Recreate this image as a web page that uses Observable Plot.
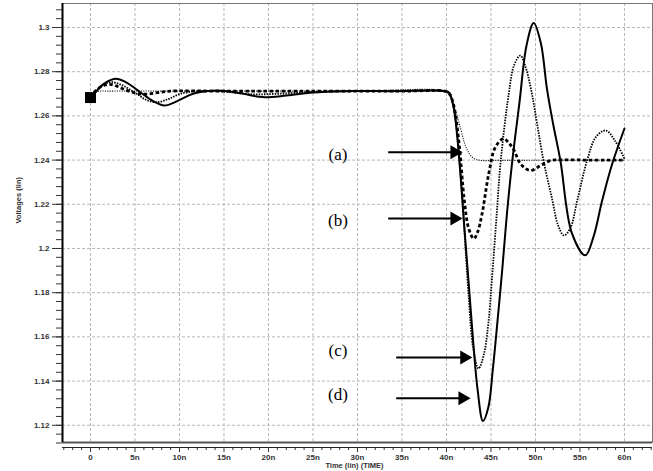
<!DOCTYPE html>
<html><head><meta charset="utf-8">
<script src="https://cdn.jsdelivr.net/npm/d3@7"></script>
<script src="https://cdn.jsdelivr.net/npm/@observablehq/plot@0.6"></script>
<style>html,body{margin:0;padding:0;background:#fff;}</style>
</head><body><div id="chart"></div>
<script>
// Axis ticks
const xMajor = [0, 5, 10, 15, 20, 25, 30, 35, 40, 45, 50, 55, 60];
const xTickLabels = ["0", "5n", "10n", "15n", "20n", "25n", "30n", "35n", "40n", "45n", "50n", "55n", "60n"];
const yMajor = [1.12, 1.14, 1.16, 1.18, 1.2, 1.22, 1.24, 1.26, 1.28, 1.3];
const yTickLabels = ["1.12", "1.14", "1.16", "1.18", "1.2", "1.22", "1.24", "1.26", "1.28", "1.3"];
const xMinor = d3.range(-3, 64, 1);
const yMinor = d3.range(278, 328).map(i => +(i * 0.004).toFixed(3));
const xDomain = [-3.146, 63.15];
const yDomain = [1.10995, 1.31086];

// Series (a): thin dotted
const tA = [0, 0.75, 2, 10, 20, 30, 39.9, 40.3, 41.0, 41.6, 42.0, 42.4, 42.9, 43.6, 46, 50, 55, 60];
const vA = [1.2683, 1.2710, 1.2712, 1.2712, 1.2712, 1.2712, 1.2712, 1.2695, 1.2625, 1.254, 1.248, 1.244, 1.2413, 1.2400, 1.2399, 1.2399, 1.2399, 1.2399];
// Series (b): thick dashed
const tB = [0, 0.6, 1.5, 2.4, 3.5, 4.7, 6, 7.5, 9, 15, 25, 35, 39.8, 40.3, 40.8, 41.4, 42.0, 42.5, 43.07, 43.5, 44.0, 44.75, 45.5, 46.4, 47.0, 47.6, 48.3, 49.4, 50.6, 51.7, 53, 56, 60];
const vB = [1.2683, 1.2715, 1.2738, 1.2742, 1.2725, 1.2707, 1.2698, 1.2705, 1.2712, 1.2712, 1.2712, 1.2712, 1.2712, 1.2702, 1.265, 1.248, 1.222, 1.209, 1.2044, 1.2075, 1.2157, 1.2338, 1.2459, 1.2497, 1.2478, 1.2444, 1.2384, 1.2353, 1.2376, 1.2398, 1.2401, 1.2400, 1.2400];
// Series (c): dotted
const tC = [0, 0.5, 1.3, 2.25, 3.5, 5, 6.3, 7.5, 8.8, 10.1, 12, 15, 18, 21, 25, 30, 35, 39.8, 40.3, 40.8, 41.2, 41.6, 42.0, 42.5, 43.0, 43.6, 44.2, 44.7, 45.1, 45.6, 46.1, 47.0, 47.6, 48.3, 48.9, 49.6, 50.2, 50.9, 51.9, 52.5, 53.2, 53.9, 54.7, 55.8, 56.8, 57.9, 58.9, 60.0];
const vC = [1.2683, 1.2705, 1.2738, 1.2753, 1.274, 1.2705, 1.2672, 1.2662, 1.2677, 1.27, 1.2712, 1.271, 1.2698, 1.27, 1.2708, 1.2712, 1.2712, 1.2712, 1.27, 1.264, 1.252, 1.233, 1.209, 1.178, 1.155, 1.1457, 1.152, 1.166, 1.1856, 1.213, 1.2398, 1.27, 1.283, 1.2873, 1.282, 1.27, 1.256, 1.2398, 1.2218, 1.211, 1.2059, 1.209, 1.2218, 1.2398, 1.2505, 1.2534, 1.249, 1.2406];
// Series (d): solid
const tD = [0, 0.5, 1.5, 2.8, 4, 5.6, 7, 8.3, 9.8, 11.6, 14.3, 16.9, 19.3, 22, 25, 28, 34, 39.8, 40.3, 40.8, 41.2, 41.6, 42.0, 42.5, 43.0, 43.5, 44.1, 44.7, 45.2, 45.8, 46.3, 46.8, 47.4, 48.2, 49.0, 49.8, 50.6, 51.3, 52.0, 52.8, 54.1, 55.6, 56.5, 57.5, 58.6, 60];
const vD = [1.2683, 1.2705, 1.2745, 1.2768, 1.2752, 1.2707, 1.2668, 1.2647, 1.2668, 1.2701, 1.2715, 1.2702, 1.2685, 1.2692, 1.2706, 1.2712, 1.2712, 1.2712, 1.2705, 1.264, 1.251, 1.232, 1.21, 1.184, 1.158, 1.136, 1.1219, 1.128, 1.145, 1.17, 1.192, 1.216, 1.2398, 1.266, 1.292, 1.302, 1.293, 1.272, 1.256, 1.2398, 1.2068, 1.1969, 1.205, 1.2218, 1.238, 1.2543];

// Annotations
const labelNames = ["(a)", "(b)", "(c)", "(d)"];
const labelT = [27.8, 27.8, 27.8, 27.8];
const labelV = [1.2426, 1.2127, 1.1536, 1.134];
const arrowT1 = [33.9, 33.9, 34.8, 34.8];
const arrowT2 = [41.8, 41.8, 42.9, 42.7];
const arrowV = [1.2435, 1.2136, 1.1507, 1.1322];
const startT = [0];
const startV = [1.2683];

const mk = (t, v) => t.map((d, i) => ({t: d, v: v[i]}));
const A = mk(tA, vA), B = mk(tB, vB), C = mk(tC, vC), D = mk(tD, vD);
const labels = labelNames.map((s, i) => ({s, t: labelT[i], v: labelV[i]}));
const arrows = arrowV.map((v, i) => ({t1: arrowT1[i], t2: arrowT2[i], v}));

const gridStyle = {stroke: "#b8b8b8", strokeOpacity: 1, strokeDasharray: "3,2", strokeWidth: 1};

const chart = Plot.plot({
  width: 653, height: 471,
  marginLeft: 62, marginRight: 1, marginTop: 3, marginBottom: 24,
  x: {domain: xDomain},
  y: {domain: yDomain},
  style: {fontFamily: "Liberation Sans", fontSize: "8px", fontWeight: "bold", color: "#333", background: "#fff"},
  marks: [
    Plot.ruleX(xMajor, {...gridStyle, insetBottom: 5}),
    Plot.ruleY(yMajor, gridStyle),
    Plot.line(A, {x: "t", y: "v", stroke: "#222", strokeWidth: 1.1, strokeDasharray: "1.2,1.2", strokeLinecap: "butt", curve: "catmull-rom"}),
    Plot.line(C, {x: "t", y: "v", stroke: "#000", strokeWidth: 1.8, strokeDasharray: "1.5,1.2", strokeLinecap: "butt", curve: "catmull-rom"}),
    Plot.line(D, {x: "t", y: "v", stroke: "#000", strokeWidth: 2, curve: "catmull-rom"}),
    Plot.line(B, {x: "t", y: "v", stroke: "#000", strokeWidth: 2.8, strokeDasharray: "3.5,2.5", strokeLinecap: "butt", curve: "catmull-rom"}),
    Plot.frame({stroke: "#777", insetBottom: 5}),
    Plot.ruleY([yDomain[0]], {dy: -5, stroke: "#555", strokeWidth: 2}),
    Plot.ruleX([xDomain[0]], {stroke: "#000", strokeWidth: 2, insetBottom: 5}),
    Plot.ruleY([yDomain[0]], {stroke: "#222", strokeWidth: 1}),
    Plot.axisX(xMajor, {tickSize: 5, tickPadding: 2, label: null, tickFormat: d => xTickLabels[xMajor.indexOf(d)]}),
    Plot.axisX(xMinor.filter(d => !xMajor.includes(d)), {tickSize: 3, label: null, tickFormat: () => ""}),
    Plot.axisY(yMajor, {tickSize: 10, tickPadding: 3, label: null, tickFormat: d => yTickLabels[yMajor.indexOf(d)]}),
    Plot.axisY(yMinor, {tickSize: 6, label: null, tickFormat: () => ""}),
    Plot.text(["Time (lin) (TIME)"], {frameAnchor: "bottom", dy: 20.5, dx: -3, fontSize: 7.5}),
    Plot.text(["Voltages (lin)"], {frameAnchor: "left", rotate: -90, dx: -44, dy: -2, fontSize: 7.5}),
    Plot.dot(mk(startT, startV), {x: "t", y: "v", symbol: "square", r: 6.2, fill: "#000", stroke: null}),
    Plot.link(arrows, {x1: "t1", y1: "v", x2: "t2", y2: "v", stroke: "#000", strokeWidth: 2, dx: -4}),
    Plot.dot(arrows, {x: "t2", y: "v", symbol: "triangle", r: 5.2, rotate: 90, fill: "#000", stroke: null, dx: -8}),
    Plot.text(labels, {x: "t", y: "v", text: "s", fontFamily: "Liberation Serif", fontSize: 17, fontWeight: "normal", fill: "#000"})
  ]
});
document.getElementById("chart").appendChild(chart);
</script>
</body></html>
